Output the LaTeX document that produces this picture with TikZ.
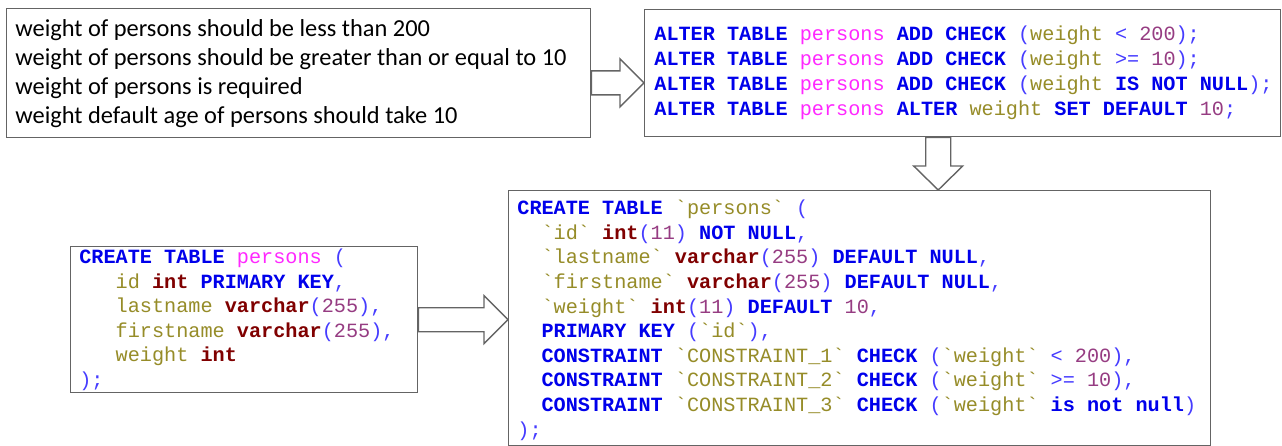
\documentclass[tikz,border=0pt]{standalone}
\usepackage{fontspec}
\setmainfont{Carlito}
\setmonofont{Liberation Mono}
\usetikzlibrary{calc}

\definecolor{boxgray}{RGB}{100,100,100}
\definecolor{kwblue}{RGB}{0,0,235}
\definecolor{punct}{RGB}{70,60,255}
\definecolor{fldolive}{RGB}{150,140,40}
\definecolor{tblpink}{RGB}{255,40,255}
\definecolor{numpurp}{RGB}{150,60,130}
\definecolor{typered}{RGB}{128,0,0}

\newcommand{\kw}[1]{\textcolor{kwblue}{\textbf{#1}}}
\newcommand{\ty}[1]{\textcolor{typered}{\textbf{#1}}}
\newcommand{\fld}[1]{\textcolor{fldolive}{#1}}
\newcommand{\tbl}[1]{\textcolor{tblpink}{#1}}
\newcommand{\nm}[1]{\textcolor{numpurp}{#1}}
\newcommand{\pu}[1]{\textcolor{punct}{#1}}
\newcommand{\bq}{\textasciigrave}

% hollow block arrows, from a box border to the next one
\newcommand{\arrowright}[2]{%
	\draw[hollow] let \p1=(#1), \p2=(#2) in
	(\x1,\y1+12pt) -- (\x2-24pt,\y1+12pt) -- (\x2-24pt,\y1+24pt) -- (\x2,\y1)
	-- (\x2-24pt,\y1-24pt) -- (\x2-24pt,\y1-12pt) -- (\x1,\y1-12pt) -- cycle ;}
\newcommand{\arrowdown}[2]{%
	\draw[hollow] let \p1=(#1), \p2=(#2) in
	(\x1-12.5pt,\y1) -- (\x1-12.5pt,\y2-24pt) -- (\x1-24.5pt,\y2-24pt) -- (\x1,\y2)
	-- (\x1+24.5pt,\y2-24pt) -- (\x1+12.5pt,\y2-24pt) -- (\x1+12.5pt,\y1) -- cycle ;}

\tikzset{every picture/.style={line width=0.75pt}}
\tikzset{
	box/.style={draw=boxgray, line width=1.4pt, inner sep=0pt, anchor=north west, fill=white},
	codetext/.style={inner sep=0pt, anchor=west, align=left, font=\fontsize{20.2}{24.6}\selectfont\ttfamily},
	plaintext/.style={inner sep=0pt, anchor=west, align=left, font=\fontsize{24.4}{29}\selectfont},
	hollow/.style={draw=boxgray, line width=1.4pt, fill=white, line join=miter}}

\begin{document}
\begin{tikzpicture}[x=1pt,y=1pt,yscale=-1,xscale=1]
	\useasboundingbox (0,0) rectangle (1282,446);

	%Shape: Rectangle
	\node[box, minimum width=584, minimum height=129] (rules) at (6,8) {};
	% Text Node
	\node[plaintext] (rulestext) at ([xshift=9]rules.west) {weight of persons should be less than 200\\
		weight of persons should be greater than or equal to 10\\
		weight of persons is required\\
		weight default age of persons should take 10};

	%Shape: Rectangle
	\node[box, minimum width=636, minimum height=127] (alter) at (644,9) {};
	% Text Node
	\node[codetext, font=\fontsize{20.2}{25}\selectfont\ttfamily] (altertext) at ([xshift=10]alter.west) {%
		\kw{ALTER TABLE} \tbl{persons} \kw{ADD CHECK} \pu{(}\fld{weight} \pu{<} \nm{200}\pu{);}\\
		\kw{ALTER TABLE} \tbl{persons} \kw{ADD CHECK} \pu{(}\fld{weight} \pu{>=} \nm{10}\pu{);}\\
		\kw{ALTER TABLE} \tbl{persons} \kw{ADD CHECK} \pu{(}\fld{weight} \kw{IS NOT NULL}\pu{);}\\
		\kw{ALTER TABLE} \tbl{persons} \kw{ALTER} \fld{weight} \kw{SET DEFAULT} \nm{10}\pu{;}};

	%Shape: Rectangle
	\node[box, minimum width=347, minimum height=146] (table) at (70,246) {};
	% Text Node
	\node[codetext] (tabletext) at ([xshift=9]table.west) {%
		\kw{CREATE TABLE} \tbl{persons} \pu{(}\\
		~~~\fld{id} \ty{int} \kw{PRIMARY KEY}\pu{,}\\
		~~~\fld{lastname} \ty{varchar}\pu{(}\nm{255}\pu{),}\\
		~~~\fld{firstname} \ty{varchar}\pu{(}\nm{255}\pu{),}\\
		~~~\fld{weight} \ty{int}\\
		\pu{);}};

	%Shape: Rectangle
	\node[box, minimum width=702, minimum height=255] (create) at (508,190) {};
	% Text Node
	\node[codetext] (createtext) at ([xshift=9,yshift=2]create.west) {%
		\kw{CREATE TABLE} \fld{\bq persons\bq} \pu{(}\\
		~~\fld{\bq id\bq} \ty{int}\pu{(}\nm{11}\pu{)} \kw{NOT NULL}\pu{,}\\
		~~\fld{\bq lastname\bq} \ty{varchar}\pu{(}\nm{255}\pu{)} \kw{DEFAULT NULL}\pu{,}\\
		~~\fld{\bq firstname\bq} \ty{varchar}\pu{(}\nm{255}\pu{)} \kw{DEFAULT NULL}\pu{,}\\
		~~\fld{\bq weight\bq} \ty{int}\pu{(}\nm{11}\pu{)} \kw{DEFAULT} \nm{10}\pu{,}\\
		~~\kw{PRIMARY KEY} \pu{(}\fld{\bq id\bq}\pu{),}\\
		~~\kw{CONSTRAINT} \fld{\bq CONSTRAINT\_1\bq} \kw{CHECK} \pu{(}\fld{\bq weight\bq} \pu{<} \nm{200}\pu{),}\\
		~~\kw{CONSTRAINT} \fld{\bq CONSTRAINT\_2\bq} \kw{CHECK} \pu{(}\fld{\bq weight\bq} \pu{>=} \nm{10}\pu{),}\\
		~~\kw{CONSTRAINT} \fld{\bq CONSTRAINT\_3\bq} \kw{CHECK} \pu{(}\fld{\bq weight\bq} \kw{is not null}\pu{)}\\
		\pu{);}};

	%Right Arrow
	\arrowright{[yshift=9.7pt]rules.east}{alter.west}
	%Down Arrow
	\arrowdown{[xshift=-24.5pt]alter.south}{create.north}
	%Right Arrow
	\arrowright{table.east}{create.west}

\end{tikzpicture}
\end{document}
